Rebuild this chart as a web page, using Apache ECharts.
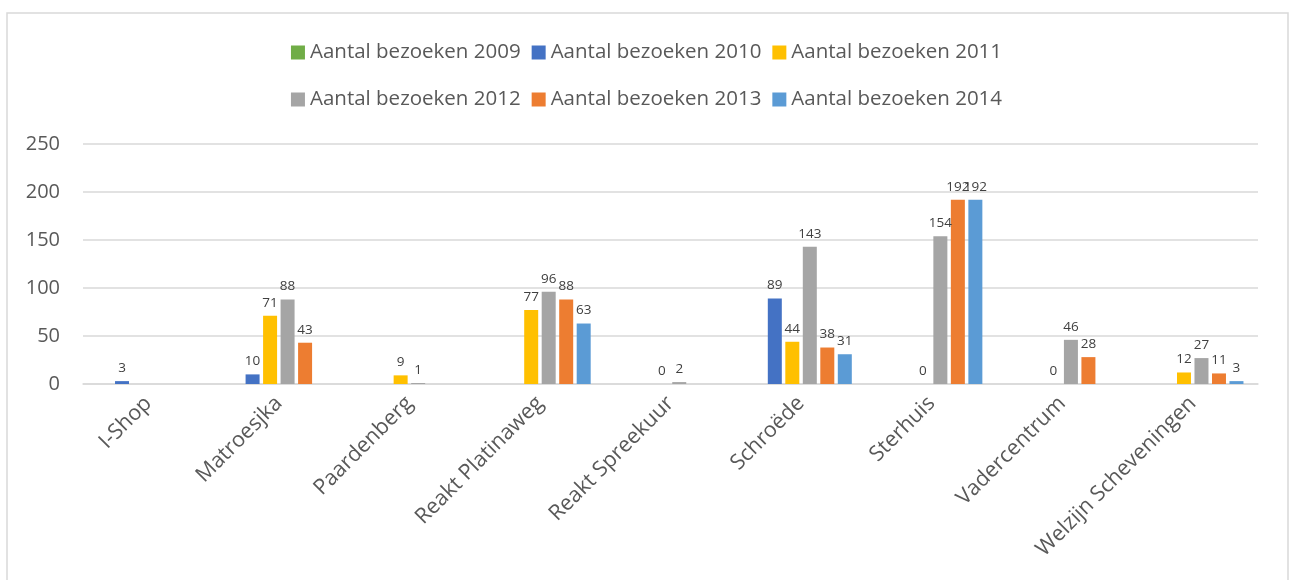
<!DOCTYPE html>
<html>
<head>
<meta charset="utf-8">
<script src="https://cdn.jsdelivr.net/npm/echarts@6/dist/echarts.min.js"></script>
<style>
html,body{margin:0;padding:0;background:#fff;}
#c{width:1293px;height:580px;}
</style>
</head>
<body>
<div id="c"></div>
<script>
const categories = ['I-Shop','Matroesjka','Paardenberg','Reakt Platinaweg','Reakt Spreekuur','Schroëde','Sterhuis','Vadercentrum','Welzijn Scheveningen'];
const seriesNames = ['Aantal bezoeken 2009','Aantal bezoeken 2010','Aantal bezoeken 2011','Aantal bezoeken 2012','Aantal bezoeken 2013','Aantal bezoeken 2014'];
const v2009 = [null,null,null,null,null,null,null,null,null];
const v2010 = [3,10,null,null,null,89,null,null,null];
const v2011 = [null,71,9,77,0,44,0,0,12];
const v2012 = [null,88,1,96,2,143,154,46,27];
const v2013 = [null,43,null,88,null,38,192,28,11];
const v2014 = [null,null,null,63,null,31,192,null,3];
const yTicks = [0,50,100,150,200,250];
const colors = ['#70ad47','#4472c4','#ffc000','#a5a5a5','#ed7d31','#5b9bd5'];

const allValues = [v2009,v2010,v2011,v2012,v2013,v2014];
const FONT = '"Open Sans", "Noto Sans", sans-serif';

const series = allValues.map((vals, i) => ({
  name: seriesNames[i],
  type: 'bar',
  data: vals.map(v => v === null ? '-' : v),
  barWidth: 14,
  barGap: '25%',
  itemStyle: {color: colors[i]},
  label: {show: true, position: 'top', color: '#404040', fontSize: 13.5, fontFamily: FONT, distance: 6}
}));

const legendCommon = {
  itemWidth: 14, itemHeight: 14, itemGap: 11, icon: 'rect',
  textStyle: {fontSize: 20.5, color: '#595959', fontFamily: FONT},
  left: 'center'
};

const chart = echarts.init(document.getElementById('c'));
chart.setOption({
  animation: false,
  color: colors,
  graphic: [{type: 'rect', shape: {x: 7, y: 13, width: 1281, height: 600}, style: {fill: 'none', stroke: '#d9d9d9', lineWidth: 1.5}}],
  legend: [
    Object.assign({top: 37, data: seriesNames.slice(0,3)}, legendCommon),
    Object.assign({top: 84, data: seriesNames.slice(3,6)}, legendCommon)
  ],
  grid: {left: 83, right: 35, top: 144, bottom: 196, containLabel: false},
  xAxis: {
    type: 'category', data: categories,
    axisLine: {lineStyle: {color: '#d9d9d9', width: 1.5}},
    axisTick: {show: false},
    axisLabel: {rotate: 45, fontSize: 21.5, color: '#595959', fontFamily: FONT, margin: 16, interval: 0}
  },
  yAxis: {
    type: 'value', min: yTicks[0], max: yTicks[yTicks.length-1], interval: 50,
    axisLine: {show: false}, axisTick: {show: false},
    splitLine: {lineStyle: {color: '#d9d9d9', width: 1.5}},
    axisLabel: {fontSize: 20, color: '#595959', fontFamily: FONT, margin: 23}
  },
  series: series
});
</script>
</body>
</html>
